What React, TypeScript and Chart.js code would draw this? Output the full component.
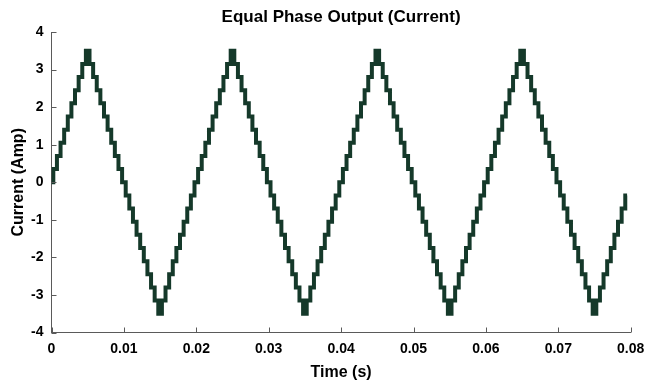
import React, { useEffect, useRef } from "react";
import { Chart, registerables } from "chart.js";

Chart.register(...registerables);

const TITLE = "Equal Phase Output (Current)";
const X_LABEL = "Time (s)";
const Y_LABEL = "Current (Amp)";

const X_TICKS = [0, 0.01, 0.02, 0.03, 0.04, 0.05, 0.06, 0.07, 0.08];
const X_TICK_LABELS = ["0", "0.01", "0.02", "0.03", "0.04", "0.05", "0.06", "0.07", "0.08"];
const Y_TICKS = [-4, -3, -2, -1, 0, 1, 2, 3, 4];
const Y_TICK_LABELS = ["-4", "-3", "-2", "-1", "0", "1", "2", "3", "4"];

// sample times (s)
const TIME = [
  0.0, 0.0005, 0.001, 0.0015, 0.002, 0.0025, 0.003, 0.0035, 0.004, 0.0045,
  0.005, 0.0055, 0.006, 0.0065, 0.007, 0.0075, 0.008, 0.0085, 0.009, 0.0095,
  0.01, 0.0105, 0.011, 0.0115, 0.012, 0.0125, 0.013, 0.0135, 0.014, 0.0145,
  0.015, 0.0155, 0.016, 0.0165, 0.017, 0.0175, 0.018, 0.0185, 0.019, 0.0195,
  0.02, 0.0205, 0.021, 0.0215, 0.022, 0.0225, 0.023, 0.0235, 0.024, 0.0245,
  0.025, 0.0255, 0.026, 0.0265, 0.027, 0.0275, 0.028, 0.0285, 0.029, 0.0295,
  0.03, 0.0305, 0.031, 0.0315, 0.032, 0.0325, 0.033, 0.0335, 0.034, 0.0345,
  0.035, 0.0355, 0.036, 0.0365, 0.037, 0.0375, 0.038, 0.0385, 0.039, 0.0395,
  0.04, 0.0405, 0.041, 0.0415, 0.042, 0.0425, 0.043, 0.0435, 0.044, 0.0445,
  0.045, 0.0455, 0.046, 0.0465, 0.047, 0.0475, 0.048, 0.0485, 0.049, 0.0495,
  0.05, 0.0505, 0.051, 0.0515, 0.052, 0.0525, 0.053, 0.0535, 0.054, 0.0545,
  0.055, 0.0555, 0.056, 0.0565, 0.057, 0.0575, 0.058, 0.0585, 0.059, 0.0595,
  0.06, 0.0605, 0.061, 0.0615, 0.062, 0.0625, 0.063, 0.0635, 0.064, 0.0645,
  0.065, 0.0655, 0.066, 0.0665, 0.067, 0.0675, 0.068, 0.0685, 0.069, 0.0695,
  0.07, 0.0705, 0.071, 0.0715, 0.072, 0.0725, 0.073, 0.0735, 0.074, 0.0745,
  0.075, 0.0755, 0.076, 0.0765, 0.077, 0.0775, 0.078, 0.0785, 0.079, 0.0795,
];

// staircase current levels (A)
const CURRENT = [
  0, 0.35, 0.7, 1.05, 1.4, 1.75, 2.1, 2.45, 2.8, 3.15,
  3.5, 3.15, 2.8, 2.45, 2.1, 1.75, 1.4, 1.05, 0.7, 0.35,
  0, -0.35, -0.7, -1.05, -1.4, -1.75, -2.1, -2.45, -2.8, -3.15,
  -3.5, -3.15, -2.8, -2.45, -2.1, -1.75, -1.4, -1.05, -0.7, -0.35,
  0, 0.35, 0.7, 1.05, 1.4, 1.75, 2.1, 2.45, 2.8, 3.15,
  3.5, 3.15, 2.8, 2.45, 2.1, 1.75, 1.4, 1.05, 0.7, 0.35,
  0, -0.35, -0.7, -1.05, -1.4, -1.75, -2.1, -2.45, -2.8, -3.15,
  -3.5, -3.15, -2.8, -2.45, -2.1, -1.75, -1.4, -1.05, -0.7, -0.35,
  0, 0.35, 0.7, 1.05, 1.4, 1.75, 2.1, 2.45, 2.8, 3.15,
  3.5, 3.15, 2.8, 2.45, 2.1, 1.75, 1.4, 1.05, 0.7, 0.35,
  0, -0.35, -0.7, -1.05, -1.4, -1.75, -2.1, -2.45, -2.8, -3.15,
  -3.5, -3.15, -2.8, -2.45, -2.1, -1.75, -1.4, -1.05, -0.7, -0.35,
  0, 0.35, 0.7, 1.05, 1.4, 1.75, 2.1, 2.45, 2.8, 3.15,
  3.5, 3.15, 2.8, 2.45, 2.1, 1.75, 1.4, 1.05, 0.7, 0.35,
  0, -0.35, -0.7, -1.05, -1.4, -1.75, -2.1, -2.45, -2.8, -3.15,
  -3.5, -3.15, -2.8, -2.45, -2.1, -1.75, -1.4, -1.05, -0.7, -0.35,
];

const FONT = "'Liberation Sans', Arial, Helvetica, sans-serif";
const AXIS_COLOR = "#5a5a5a";
const LINE_COLOR = "#15392a";

const inwardTicks = {
  id: "inwardTicks",
  afterDraw(chart: any) {
    const { ctx, chartArea, scales } = chart;
    const len = 5;
    ctx.save();
    ctx.strokeStyle = AXIS_COLOR;
    ctx.lineWidth = 1;
    ctx.beginPath();
    X_TICKS.forEach((v) => {
      const px = Math.round(scales.x.getPixelForValue(v)) + 0.5;
      ctx.moveTo(px, chartArea.bottom);
      ctx.lineTo(px, chartArea.bottom - len);
    });
    Y_TICKS.forEach((v) => {
      const py = Math.round(scales.y.getPixelForValue(v)) + 0.5;
      ctx.moveTo(chartArea.left, py);
      ctx.lineTo(chartArea.left + len, py);
    });
    ctx.stroke();
    ctx.restore();
  },
};

export default function App() {
  const canvasRef = useRef<HTMLCanvasElement | null>(null);

  useEffect(() => {
    document.body.style.margin = "0";
    const canvas = canvasRef.current;
    if (!canvas) return;
    const points = TIME.map((t, i) => ({ x: t, y: CURRENT[i] }));
    const chart = new Chart(canvas, {
      type: "line",
      data: {
        datasets: [
          {
            data: points,
            borderColor: LINE_COLOR,
            borderWidth: 4,
            pointRadius: 0,
            stepped: "middle",
            tension: 0,
            fill: false,
            borderJoinStyle: "miter",
            borderCapStyle: "butt",
          } as any,
        ],
      },
      options: {
        responsive: false,
        animation: false,
        layout: { padding: { left: 0, right: 17.3, top: 0, bottom: 0 } },
        plugins: {
          legend: { display: false },
          tooltip: { enabled: false },
          title: {
            display: true,
            text: TITLE,
            fullSize: false,
            color: "#000",
            font: { family: FONT, size: 17, weight: "bold" },
            padding: { top: 7, bottom: 4.6 },
          },
        },
        scales: {
          x: {
            type: "linear",
            min: 0,
            max: 0.08,
            grid: { display: false, drawTicks: false },
            border: { display: true, color: AXIS_COLOR, width: 1 },
            afterBuildTicks: (scale: any) => {
              scale.ticks = X_TICKS.map((v) => ({ value: v }));
            },
            afterFit: (scale: any) => {
              scale.height = 52.5;
              scale.paddingLeft = 0;
              scale.paddingRight = 0;
            },
            ticks: {
              autoSkip: false,
              maxRotation: 0,
              padding: 8,
              color: "#000",
              font: { family: FONT, size: 14, weight: "bold" },
              callback: (_v: any, i: number) => X_TICK_LABELS[i],
            },
            title: {
              display: true,
              text: X_LABEL,
              color: "#000",
              font: { family: FONT, size: 16, weight: "bold" },
              padding: { top: 0, bottom: 3 },
            },
          },
          y: {
            type: "linear",
            min: -4,
            max: 4,
            grid: { display: false, drawTicks: false },
            border: { display: true, color: AXIS_COLOR, width: 1 },
            afterBuildTicks: (scale: any) => {
              scale.ticks = Y_TICKS.map((v) => ({ value: v }));
            },
            afterFit: (scale: any) => {
              scale.width = 51.5;
              scale.paddingTop = 0;
              scale.paddingBottom = 0;
            },
            ticks: {
              autoSkip: false,
              padding: 8,
              color: "#000",
              font: { family: FONT, size: 14, weight: "bold" },
              callback: (_v: any, i: number) => Y_TICK_LABELS[i],
            },
            title: {
              display: true,
              text: Y_LABEL,
              color: "#000",
              font: { family: FONT, size: 16, weight: "bold" },
              padding: { top: 9.4, bottom: 0 },
            },
          },
        },
      },
      plugins: [inwardTicks],
    });
    return () => chart.destroy();
  }, []);

  return (
    <div style={{ width: 648, height: 385, background: "#fff" }}>
      <canvas ref={canvasRef} width={648} height={385} />
    </div>
  );
}
